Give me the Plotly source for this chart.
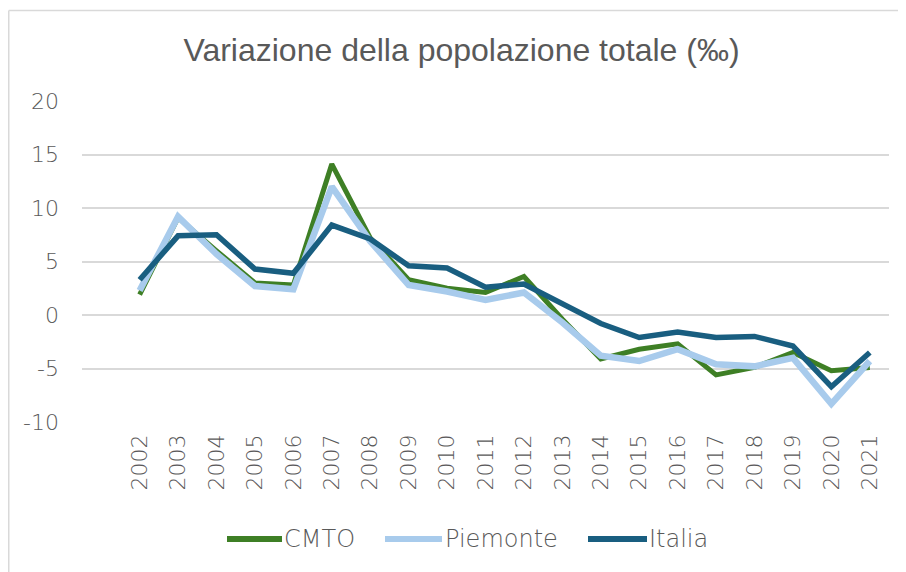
import plotly.graph_objects as go

years = list(range(2002, 2022))
cmto = [1.9, 9.1, 6.0, 3.0, 2.8, 14.1, 7.2, 3.3, 2.5, 2.1, 3.6, -0.4, -4.1, -3.2, -2.7, -5.6, -4.9, -3.5, -5.2, -4.9]
piemonte = [2.3, 9.2, 5.7, 2.7, 2.4, 12.0, 6.9, 2.8, 2.2, 1.4, 2.1, -0.7, -3.8, -4.3, -3.2, -4.6, -4.8, -4.0, -8.3, -4.3]
italia = [3.3, 7.4, 7.5, 4.3, 3.9, 8.4, 7.1, 4.6, 4.4, 2.6, 2.9, 1.1, -0.8, -2.1, -1.6, -2.1, -2.0, -2.9, -6.7, -3.5]
y_ticks = [-10, -5, 0, 5, 10, 15, 20]
y_tick_text = ["-10", "-5", "0", "5", "10", "15", "20"]

series = [
    ("CMTO", cmto, "#3E7F25", 5),
    ("Piemonte", piemonte, "#A8CBEC", 6.5),
    ("Italia", italia, "#195E80", 5.5),
]

# Figure geometry (the page adds an 8px body margin)
W, H = 906, 572
ML, MR, MT, MB = 74, 25, 93, 158
PW = W - ML - MR
PH = H - MT - MB

def px(x):
    return (x - ML) / PW

def py(y):
    return (H - MB - y) / PH

font_main = "DejaVu Sans"
grey = "#595959"

fig = go.Figure()
for name, vals, color, w in series:
    fig.add_trace(go.Scatter(x=years, y=vals, name=name, mode="lines",
                             line=dict(color=color, width=w), showlegend=False))

shapes = [
    dict(type="line", xref="paper", yref="paper", x0=px(0.75), x1=px(W + 20), y0=py(2.5), y1=py(2.5),
         line=dict(color="#D9D9D9", width=1.5)),
    dict(type="line", xref="paper", yref="paper", x0=px(0.75), x1=px(0.75), y0=py(2.5), y1=py(H + 20),
         line=dict(color="#D9D9D9", width=1.5)),
]
annotations = []
# legend (line sample + label), positions in figure pixels
legend_items = [(219, 274, 274), (377, 434, 435), (580, 639, 639)]
for (name, vals, color, w), (lx0, lx1, tx) in zip(series, legend_items):
    shapes.append(dict(type="line", xref="paper", yref="paper", x0=px(lx0), x1=px(lx1),
                       y0=py(531), y1=py(531), line=dict(color=color, width=6)))
    annotations.append(dict(xref="paper", yref="paper", x=px(tx), y=py(531), text=name,
                            showarrow=False, xanchor="left", yanchor="middle",
                            font=dict(family=font_main, size=24, color=grey, weight=300)))

fig.update_layout(
    width=W, height=H,
    margin=dict(l=ML, r=MR, t=MT, b=MB),
    paper_bgcolor="white", plot_bgcolor="white",
    title=dict(text="Variazione della popolazione totale (‰)", x=453.5 / W, xanchor="center",
               xref="container", y=1 - 42 / H, yanchor="middle",
               font=dict(family="Liberation Sans, Arial", size=32, color=grey)),
    showlegend=False,
    xaxis=dict(range=[2000.5, 2021.5], tickvals=years, ticktext=[str(y) for y in years],
               tickangle=-90, showgrid=False, zeroline=False, showline=False,
               ticks="", ticklabelstandoff=7,
               tickfont=dict(family=font_main, size=22, color=grey, weight=300)),
    yaxis=dict(range=[-10, 20], tickvals=y_ticks, ticktext=y_tick_text, showgrid=True,
               gridcolor="#D9D9D9", gridwidth=1.5, zeroline=False, showline=False,
               ticks="", ticklabelstandoff=22,
               tickfont=dict(family=font_main, size=22, color=grey, weight=300)),
    shapes=shapes,
    annotations=annotations,
)

fig.write_html("out.html")
